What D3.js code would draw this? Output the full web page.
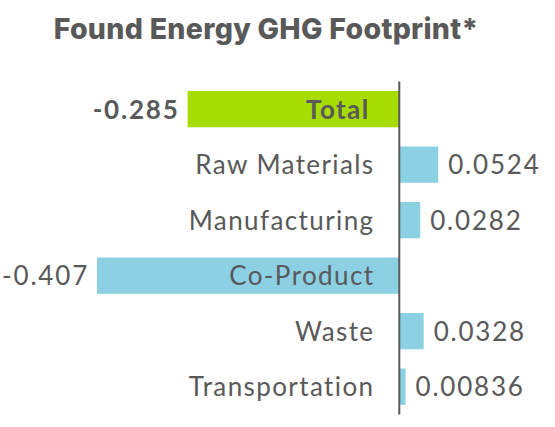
<!DOCTYPE html>
<html>
<head>
<meta charset="utf-8">
<script src="https://cdn.jsdelivr.net/npm/d3@7"></script>
<style>
  body { margin: 0; background: #fff; }
  svg text { font-family: Lato, "Open Sans", sans-serif; fill: #595959; }
</style>
</head>
<body>
<svg id="chart" width="555" height="427"></svg>
<script>
// chart data
var categories = ["Total", "Raw Materials", "Manufacturing", "Co-Product", "Waste", "Transportation"];
var values = [-0.285, 0.0524, 0.0282, -0.407, 0.0328, 0.00836];
var valueLabels = ["-0.285", "0.0524", "0.0282", "-0.407", "0.0328", "0.00836"];
var title = "Found Energy GHG Footprint*";

var svg = d3.select("#chart");
var green = "#a6dc00", blue = "#8cd0e4";
var zeroX = 399.3, pxPerUnit = 742.7;

var x = d3.scaleLinear()
	.domain([-0.5, 0.1])
	.range([zeroX - 0.5 * pxPerUnit, zeroX + 0.1 * pxPerUnit]);

var y = d3.scaleBand()
	.domain(categories)
	.range([81.4, 414.4])
	.paddingInner(0.346)
	.paddingOuter(0.173);

svg.append("text")
	.attr("x", 266)
	.attr("y", 39)
	.attr("text-anchor", "middle")
	.style("font-family", "Inter, Lato, sans-serif")
	.style("font-weight", 800)
	.style("font-size", "28.5px")
	.style("letter-spacing", "0.3px")
	.text(title);

var rows = svg.selectAll("g.row")
	.data(categories)
	.enter().append("g")
	.attr("class", "row");

rows.append("rect")
	.attr("x", function(d, i) { return x(Math.min(0, values[i])); })
	.attr("y", function(d) { return y(d); })
	.attr("width", function(d, i) { return Math.abs(x(values[i]) - x(0)); })
	.attr("height", y.bandwidth())
	.attr("fill", function(d, i) { return i == 0 ? green : blue; });

// category names, right aligned left of the axis
rows.append("text")
	.attr("x", function(d, i) { return i == 0 ? 369.5 : 374.5; })
	.attr("y", function(d) { return y(d) + y.bandwidth() / 2 + 9.5; })
	.attr("text-anchor", "end")
	.style("font-size", "26px")
	.style("letter-spacing", "1.4px")
	.style("font-weight", function(d, i) { return i == 0 ? 700 : 400; })
	.text(function(d) { return d; });

// value labels outside the bar end
rows.append("text")
	.attr("x", function(d, i) {
		return values[i] < 0 ? x(values[i]) - 8 : x(values[i]) + 10;
	})
	.attr("y", function(d) { return y(d) + y.bandwidth() / 2 + 9.5; })
	.attr("text-anchor", function(d, i) { return values[i] < 0 ? "end" : "start"; })
	.style("font-size", "26px")
	.style("letter-spacing", "1.8px")
	.style("font-weight", function(d, i) { return i == 0 ? 700 : 400; })
	.text(function(d, i) { return valueLabels[i]; });

// zero axis line
svg.append("line")
	.attr("x1", x(0))
	.attr("x2", x(0))
	.attr("y1", 81.4)
	.attr("y2", 414.4)
	.attr("stroke", "#595959")
	.attr("stroke-width", 2);
</script>
</body>
</html>
